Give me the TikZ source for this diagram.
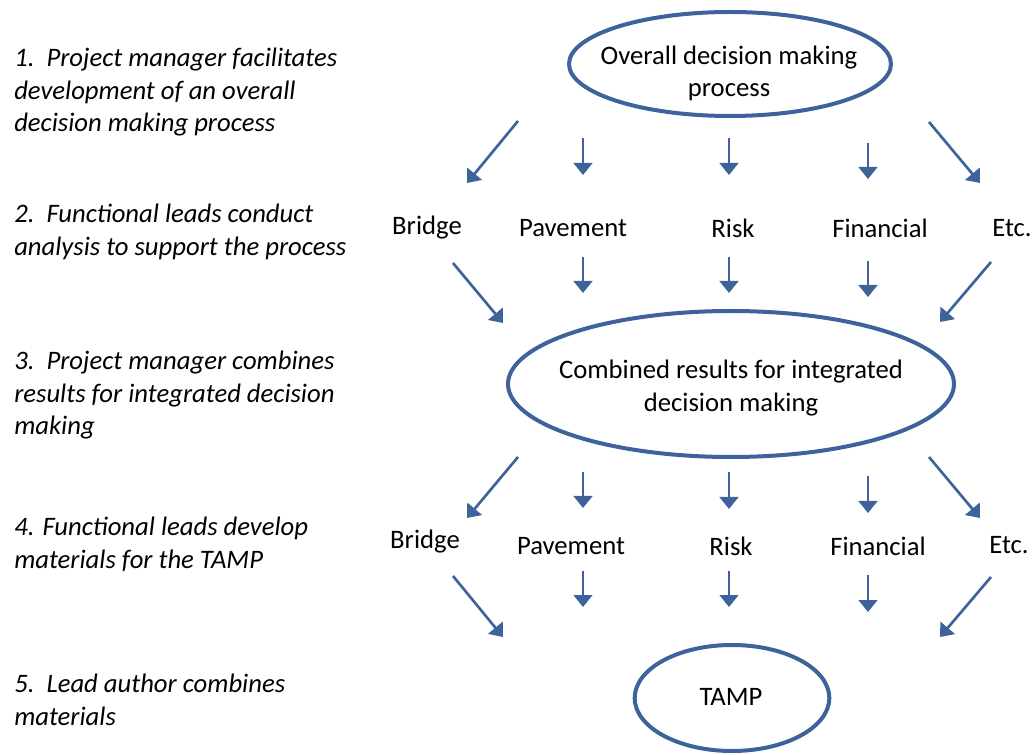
\documentclass[tikz,border=0pt]{standalone}
\usepackage{fontspec}
\setmainfont{Carlito}
\usetikzlibrary{arrows.meta,shapes.geometric}
\definecolor{dblue}{RGB}{62,99,155}
\begin{document}
\begin{tikzpicture}[x=0.75pt,y=-0.75pt,
  every node/.style={font=\fontsize{20}{24.4}\selectfont, inner sep=0pt},
  stepnote/.style={anchor=north west, align=left, font=\fontsize{20}{24.4}\selectfont\itshape},
  oval/.style={ellipse, draw=dblue, line width=3pt, inner sep=0pt},
  ovaltext/.style={align=center},
  lbl/.style={anchor=center},
  arr/.style={draw=dblue, line width=2pt, -{Triangle[width=14pt,length=9pt]}}]
\useasboundingbox (0,0) rectangle (1036,755);
% left step descriptions
\node[stepnote] (s1) at (14,48) {1.\ \ Project manager facilitates\\development of an overall\\decision making process};
\node[stepnote] (s2) at (14,204) {2.\ \ Functional leads conduct\\analysis to support the process};
\node[stepnote] (s3) at (14,351) {3.\ \ Project manager combines\\results for integrated decision\\making};
\node[stepnote] (s4) at (14,517) {4. Functional leads develop\\materials for the TAMP};
\node[stepnote] (s5) at (14,674) {5.\ \ Lead author combines\\materials};
% ellipses
\node[oval, minimum width=241.5pt, minimum height=78pt] (top) at (730,64) {};
\node[ovaltext] (toptext) at (729,73.5) {Overall decision making\\process};
\node[oval, minimum width=334.5pt, minimum height=109.5pt] (mid) at (731,384) {};
\node[ovaltext] (midtext) at (731,388) {Combined results for integrated\\decision making};
\node[oval, minimum width=146pt, minimum height=79.5pt] (tamp) at (732,698) {};
\node[ovaltext] (tamptext) at (731,697) {TAMP};
% labels row 1
\node[lbl] (b1) at (427,228) {Bridge};
\node[lbl] (p1) at (573,228) {Pavement};
\node[lbl] (r1) at (733,228) {Risk};
\node[lbl] (f1) at (880,228) {Financial};
\node[lbl] (e1) at (1012,228) {Etc.};
% labels row 2
\node[lbl] (b2) at (425,542) {Bridge};
\node[lbl] (p2) at (571,546) {Pavement};
\node[lbl] (r2) at (731,546) {Risk};
\node[lbl] (f2) at (878,546) {Financial};
\node[lbl] (e2) at (1009,545) {Etc.};
% arrows
\foreach \n/\xa/\ya/\xb/\yb in {
  a1/518/121/467/183, a2/583/138/583/175, a3/729/138/729/175, a4/868/143/868/179, a5/929/122/980/183,
  b1/453/263/503/323, b2/583/257/583/293, b3/729/257/729/293, b4/868/261/868/297, b5/991/262/940/322,
  c1/518/457/467/518, c2/583/472/583/508, c3/729/472/729/509, c4/868/476/868/513, c5/929/457/980/518,
  d1/453/576/503/637, d2/583/571/583/607, d3/729/571/729/607, d4/868/575/868/612, d5/991/577/940/637}{
  \coordinate (\n s) at (\xa,\ya);
  \coordinate (\n e) at (\xb,\yb);
  \draw[arr] (\n s) -- (\n e);
}
\end{tikzpicture}
\end{document}
